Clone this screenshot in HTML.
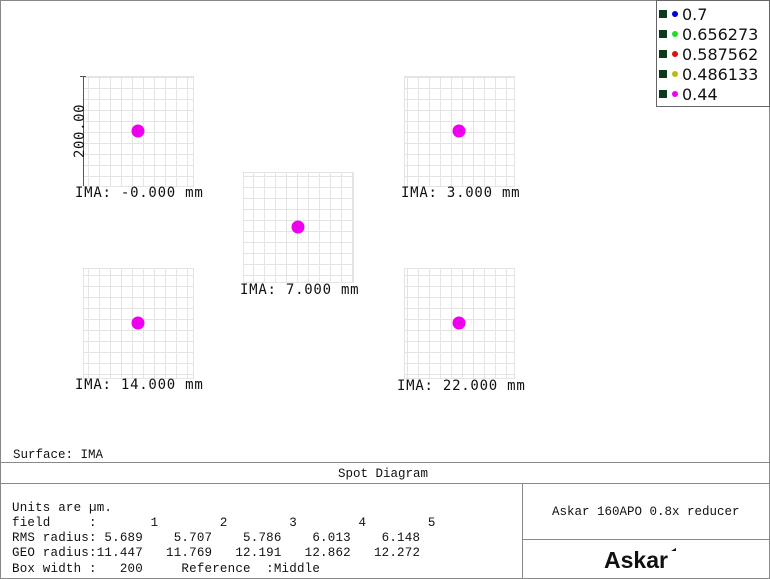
<!DOCTYPE html>
<html><head><meta charset="utf-8"><style>
html,body{margin:0;padding:0;background:#fff;}
svg{display:block;}
</style></head><body>
<svg width="770" height="579" viewBox="0 0 770 579" xmlns="http://www.w3.org/2000/svg">
<defs>
<pattern id="g" x="0" y="0" width="11" height="11" patternUnits="userSpaceOnUse">
<path d="M0 0.5H11M0.5 0V11" stroke="#e4e4e4" stroke-width="1" fill="none"/>
</pattern>
</defs>
<rect x="0.5" y="0.5" width="769" height="578" fill="#fff" stroke="#888"/>
<g font-family="'DejaVu Sans Mono','Liberation Mono',monospace" font-size="14" fill="#111">
<g>
<rect x="83" y="76" width="110" height="110" fill="url(#g)"/><rect x="83.5" y="76.5" width="110" height="110" fill="none" stroke="#e4e4e4"/>
<rect x="404" y="76" width="110" height="110" fill="url(#g)"/><rect x="404.5" y="76.5" width="110" height="110" fill="none" stroke="#e4e4e4"/>
<rect x="243" y="172" width="110" height="110" fill="url(#g)"/><rect x="243.5" y="172.5" width="110" height="110" fill="none" stroke="#e4e4e4"/>
<rect x="83" y="268" width="110" height="110" fill="url(#g)"/><rect x="83.5" y="268.5" width="110" height="110" fill="none" stroke="#e4e4e4"/>
<rect x="404" y="268" width="110" height="110" fill="url(#g)"/><rect x="404.5" y="268.5" width="110" height="110" fill="none" stroke="#e4e4e4"/>
</g>
<line x1="83.5" y1="76" x2="83.5" y2="186" stroke="#555"/>
<line x1="80" y1="76.5" x2="86" y2="76.5" stroke="#555"/>
<text transform="translate(84,158) rotate(-90)" font-size="14" letter-spacing="0.6">200.00</text>
<circle cx="138" cy="131" r="6.5" fill="#ee00ee"/>
<circle cx="459" cy="131" r="6.5" fill="#ee00ee"/>
<circle cx="298" cy="227" r="6.5" fill="#ee00ee"/>
<circle cx="138" cy="323" r="6.5" fill="#ee00ee"/>
<circle cx="459" cy="323" r="6.5" fill="#ee00ee"/>
<g letter-spacing="0.75">
<text x="75" y="197">IMA: -0.000 mm</text>
<text x="401" y="197">IMA: 3.000 mm</text>
<text x="240" y="294">IMA: 7.000 mm</text>
<text x="75" y="389">IMA: 14.000 mm</text>
<text x="397" y="390">IMA: 22.000 mm</text>
</g>
</g>
<rect x="656.5" y="0.5" width="113" height="106" fill="#fff" stroke="#666"/>
<g font-family="'DejaVu Sans','Liberation Sans',sans-serif" font-size="16" fill="#111">
<g fill="#0a3a1a"><rect x="659" y="10" width="8" height="8"/><rect x="659" y="30" width="8" height="8"/><rect x="659" y="50" width="8" height="8"/><rect x="659" y="70" width="8" height="8"/><rect x="659" y="90" width="8" height="8"/></g>
<circle cx="675" cy="14" r="3" fill="#0000dd"/>
<circle cx="675" cy="34" r="3" fill="#22dd22"/>
<circle cx="675" cy="54" r="3" fill="#dd1111"/>
<circle cx="675" cy="74" r="3" fill="#bbbb11"/>
<circle cx="675" cy="94" r="3" fill="#ee00ee"/>
<text x="682" y="20">0.7</text>
<text x="682" y="40">0.656273</text>
<text x="682" y="60">0.587562</text>
<text x="682" y="80">0.486133</text>
<text x="682" y="100">0.44</text>
</g>
<g stroke="#888" stroke-width="1">
<line x1="0" y1="462.5" x2="770" y2="462.5"/>
<line x1="0" y1="483.5" x2="770" y2="483.5"/>
<line x1="522.5" y1="483" x2="522.5" y2="579"/>
<line x1="522" y1="539.5" x2="770" y2="539.5"/>
</g>
<g font-family="'Liberation Mono','DejaVu Sans Mono',monospace" font-size="12.5" fill="#111">
<text x="13" y="458">Surface: IMA</text>
<text x="338" y="477">Spot Diagram</text>
<g letter-spacing="0.2">
<text x="12" y="511">Units are µm.</text>
<text x="12" y="526" xml:space="preserve">field     :       1        2        3        4        5</text>
<text x="12" y="541" xml:space="preserve">RMS radius: 5.689    5.707    5.786    6.013    6.148</text>
<text x="12" y="556" xml:space="preserve">GEO radius:11.447   11.769   12.191   12.862   12.272</text>
<text x="12" y="572" xml:space="preserve">Box width :   200     Reference  :Middle</text>
</g>
<text x="552" y="515">Askar 160APO 0.8x reducer</text>
</g>
<text x="604" y="568" font-family="'Liberation Sans',sans-serif" font-weight="bold" font-size="23" fill="#111">Askar</text>
<path d="M671 551 l5 -3 l0 3 z" fill="#111"/>
</svg>
</body></html>
